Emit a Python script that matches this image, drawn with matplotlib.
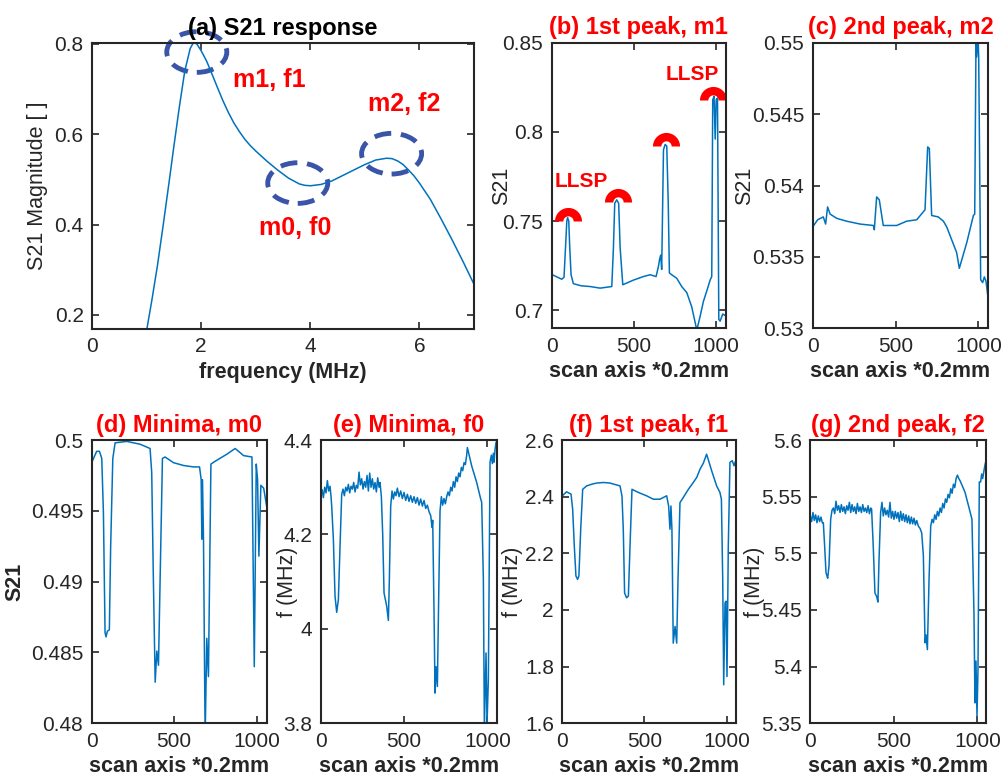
import numpy as np
import matplotlib.pyplot as plt
from matplotlib.path import Path
from matplotlib.patches import Ellipse

plt.rcParams['font.family'] = ['Liberation Sans', 'DejaVu Sans']

# (a) S21 response
freq = [1.0, 1.1, 1.2, 1.3, 1.4, 1.5, 1.6, 1.7, 1.8, 1.86, 1.92, 2.0, 2.1, 2.2, 2.3,
        2.4, 2.5, 2.6, 2.7, 2.8, 2.9, 3.0, 3.2, 3.4, 3.6, 3.8, 3.9, 4.0, 4.2, 4.4,
        4.6, 4.8, 5.0, 5.2, 5.4, 5.5, 5.6, 5.7, 5.8, 5.9, 6.0, 6.2, 6.4, 6.6, 6.8, 7.0]
s21 = [0.165, 0.235, 0.31, 0.395, 0.483, 0.573, 0.66, 0.74, 0.79, 0.803, 0.800, 0.785,
       0.762, 0.733, 0.703, 0.674, 0.648, 0.625, 0.606, 0.589, 0.575, 0.563, 0.541,
       0.521, 0.503, 0.490, 0.487, 0.486, 0.489, 0.497, 0.509, 0.521, 0.533, 0.543,
       0.547, 0.546, 0.541, 0.533, 0.521, 0.508, 0.492, 0.456, 0.412, 0.366, 0.318, 0.268]
ell_x = [1.92, 3.77, 5.49]
ell_y = [0.782, 0.492, 0.557]
ann_text = ['m1, f1', 'm0, f0', 'm2, f2']
ann_x = [2.58, 3.06, 5.06]
ann_y = [0.720, 0.392, 0.668]

# (b) 1st peak, m1
xb = [4, 61, 75, 84, 92, 97, 104, 110, 118, 132, 180, 234, 295, 366, 376, 384, 396,
      408, 417, 433, 498, 559, 600, 636, 650, 658, 664, 670, 681, 691, 701, 710, 717,
      731, 762, 792, 823, 853, 884, 905, 924, 945, 965, 975, 981, 989, 996, 1002, 1010,
      1018, 1026, 1042, 1060]
yb = [0.720, 0.7175, 0.7186, 0.735, 0.750, 0.752, 0.750, 0.735, 0.720, 0.715, 0.7138,
      0.7134, 0.7125, 0.7134, 0.735, 0.760, 0.762, 0.760, 0.735, 0.7144, 0.717, 0.719,
      0.720, 0.719, 0.7246, 0.729, 0.731, 0.723, 0.790, 0.793, 0.792, 0.760, 0.721,
      0.720, 0.718, 0.7134, 0.710, 0.702, 0.689, 0.697, 0.705, 0.711, 0.717, 0.719,
      0.818, 0.820, 0.796, 0.818, 0.819, 0.695, 0.694, 0.698, 0.697]
llsp_x = [101, 406, 697, 985]
llsp_y = [0.750, 0.761, 0.792, 0.818]

# (c) 2nd peak, m2
xc = [0, 30, 64, 78, 90, 105, 145, 205, 286, 366, 372, 386, 402, 426, 507, 567, 628,
      678, 694, 704, 718, 758, 789, 809, 839, 869, 885, 930, 970, 978, 986, 990, 998,
      1002, 1014, 1026, 1036, 1046, 1060]
yc = [0.5371, 0.5376, 0.5378, 0.5373, 0.5385, 0.5380, 0.5377, 0.5375, 0.5373, 0.5372,
      0.5369, 0.5392, 0.5390, 0.5372, 0.5372, 0.5375, 0.5376, 0.5383, 0.5427, 0.5426,
      0.5379, 0.5378, 0.5375, 0.5371, 0.5362, 0.5353, 0.5342, 0.5360, 0.5379, 0.5380,
      0.5505, 0.5490, 0.5505, 0.5490, 0.5334, 0.5332, 0.5336, 0.5333, 0.5320]

# (d) Minima, m0
xd = [0, 30, 47, 61, 71, 81, 87, 95, 107, 115, 128, 142, 213, 294, 354, 364, 374, 385,
      395, 405, 415, 429, 445, 496, 557, 617, 654, 664, 668, 672, 678, 688, 698, 708,
      723, 749, 820, 870, 921, 972, 986, 998, 1006, 1014, 1026, 1043, 1067]
yd = [0.4984, 0.4992, 0.4992, 0.4987, 0.4949, 0.4864, 0.4861, 0.4865, 0.4866, 0.4925,
      0.4987, 0.4998, 0.4999, 0.4997, 0.4994, 0.4977, 0.4902, 0.4829, 0.4851, 0.4841,
      0.4902, 0.4987, 0.4988, 0.4984, 0.4982, 0.4981, 0.4981, 0.4972, 0.4930, 0.4972,
      0.4930, 0.4790, 0.4860, 0.4833, 0.4983, 0.4985, 0.4990, 0.4994, 0.4989, 0.4988,
      0.4840, 0.4983, 0.4972, 0.4918, 0.4968, 0.4966, 0.4949]

# (e) Minima, f0
xe = [0, 8, 16, 24, 32, 40, 48, 56, 62, 66, 76, 86, 96, 106, 116, 126, 134, 142, 150,
      158, 166, 174, 182, 190, 198, 206, 214, 222, 230, 238, 246, 254, 262, 270, 278,
      286, 294, 302, 310, 318, 326, 334, 342, 350, 356, 364, 372, 380, 396, 406, 412,
      420, 428, 436, 444, 452, 460, 470, 480, 490, 500, 510, 520, 530, 540, 550, 560,
      570, 580, 590, 600, 610, 620, 630, 640, 650, 660, 668, 672, 680, 686, 692, 700,
      708, 716, 724, 732, 740, 748, 756, 764, 772, 780, 788, 796, 804, 812, 820, 828,
      836, 844, 852, 860, 868, 876, 880, 906, 936, 960, 966, 976, 982, 992, 998, 1006,
      1016, 1024, 1030, 1036, 1040, 1046, 1052]
ye = [4.282, 4.295, 4.278, 4.300, 4.288, 4.314, 4.292, 4.302, 4.280, 4.260, 4.190,
      4.069, 4.035, 4.062, 4.175, 4.285, 4.296, 4.282, 4.300, 4.292, 4.306, 4.288,
      4.302, 4.296, 4.310, 4.290, 4.304, 4.298, 4.332, 4.305, 4.318, 4.296, 4.312,
      4.300, 4.325, 4.292, 4.330, 4.300, 4.318, 4.296, 4.310, 4.290, 4.320, 4.300,
      4.310, 4.280, 4.200, 4.076, 4.048, 4.018, 4.105, 4.260, 4.292, 4.275, 4.290,
      4.282, 4.298, 4.280, 4.292, 4.276, 4.289, 4.272, 4.285, 4.270, 4.282, 4.268,
      4.280, 4.266, 4.278, 4.262, 4.275, 4.260, 4.272, 4.255, 4.262, 4.248, 4.240,
      4.215, 4.230, 4.034, 3.864, 3.920, 3.878, 4.069, 4.250, 4.280, 4.262, 4.276,
      4.265, 4.280, 4.290, 4.282, 4.300, 4.292, 4.312, 4.300, 4.322, 4.312, 4.330,
      4.322, 4.342, 4.335, 4.352, 4.348, 4.368, 4.384, 4.345, 4.310, 4.275, 4.268,
      4.105, 3.790, 3.949, 3.800, 3.892, 4.353, 4.368, 4.350, 4.372, 4.353, 4.380,
      4.395]

# (f) 1st peak, f1
xf = [0, 26, 53, 63, 73, 83, 93, 101, 112, 124, 148, 180, 209, 250, 290, 351, 363, 371,
      379, 391, 402, 412, 424, 462, 513, 554, 594, 635, 647, 655, 661, 667, 675, 686,
      696, 704, 716, 736, 767, 797, 818, 838, 858, 878, 909, 939, 959, 968, 976, 982,
      990, 996, 1002, 1010, 1020, 1034, 1045, 1055]
yf = [2.403, 2.417, 2.409, 2.356, 2.226, 2.120, 2.108, 2.120, 2.285, 2.426, 2.438,
      2.444, 2.448, 2.450, 2.448, 2.438, 2.403, 2.285, 2.060, 2.043, 2.049, 2.226,
      2.426, 2.415, 2.403, 2.391, 2.391, 2.403, 2.367, 2.285, 2.367, 2.285, 1.883,
      1.942, 1.883, 2.108, 2.379, 2.397, 2.426, 2.450, 2.468, 2.497, 2.518, 2.550,
      2.491, 2.438, 2.415, 2.391, 2.108, 1.736, 2.025, 2.031, 1.765, 2.226, 2.521,
      2.527, 2.509, 2.527]

# (g) 2nd peak, f2
xg = [0, 8, 16, 24, 32, 40, 48, 56, 64, 72, 78, 86, 94, 100, 104, 112, 122, 130, 138,
      146, 154, 162, 170, 178, 186, 194, 202, 210, 218, 226, 234, 242, 250, 258, 266,
      274, 282, 290, 298, 306, 314, 322, 330, 338, 346, 354, 362, 367, 377, 387, 397,
      405, 411, 421, 429, 437, 445, 453, 461, 469, 477, 485, 493, 501, 509, 517, 525,
      533, 541, 549, 557, 565, 573, 581, 589, 597, 605, 613, 621, 629, 637, 647, 657,
      667, 677, 687, 693, 701, 711, 721, 729, 737, 745, 753, 761, 769, 777, 785, 793,
      801, 809, 817, 825, 833, 841, 849, 857, 865, 873, 881, 889, 897, 926, 956, 968,
      980, 986, 992, 998, 1004, 1012, 1020, 1026, 1032, 1040, 1046, 1052]
yg = [5.533, 5.528, 5.536, 5.529, 5.534, 5.527, 5.533, 5.528, 5.532, 5.527, 5.527,
      5.506, 5.483, 5.480, 5.478, 5.489, 5.530, 5.538, 5.540, 5.535, 5.546, 5.538,
      5.542, 5.536, 5.543, 5.537, 5.541, 5.535, 5.542, 5.538, 5.545, 5.536, 5.543,
      5.537, 5.541, 5.535, 5.544, 5.537, 5.541, 5.536, 5.543, 5.537, 5.540, 5.536,
      5.542, 5.535, 5.540, 5.539, 5.506, 5.465, 5.462, 5.457, 5.492, 5.536, 5.545,
      5.533, 5.540, 5.534, 5.538, 5.532, 5.545, 5.531, 5.537, 5.530, 5.537, 5.531,
      5.536, 5.528, 5.537, 5.529, 5.535, 5.528, 5.534, 5.527, 5.533, 5.526, 5.532,
      5.526, 5.531, 5.525, 5.529, 5.524, 5.522, 5.518, 5.498, 5.421, 5.428, 5.415,
      5.477, 5.524, 5.530, 5.527, 5.534, 5.530, 5.537, 5.533, 5.540, 5.536, 5.544,
      5.540, 5.548, 5.545, 5.552, 5.549, 5.557, 5.553, 5.561, 5.558, 5.566, 5.569,
      5.566, 5.564, 5.554, 5.537, 5.530, 5.447, 5.368, 5.405, 5.356, 5.397, 5.563,
      5.563, 5.570, 5.566, 5.573, 5.578, 5.582]

W, H = 1006, 782
LINE = '#0072BD'
DARK = '#262626'
TICK_FS = 15
LAB_FS = 15.5
TITLE_FS = 17


def make_ax(fig, left, right, top, bottom):
    ax = fig.add_axes([left / W, 1 - bottom / H, (right - left) / W, (bottom - top) / H])
    ax.tick_params(direction='in', top=True, right=True, length=5, width=1.2,
                   labelsize=TICK_FS, colors=DARK, pad=6)
    for sp in ax.spines.values():
        sp.set_linewidth(1.5)
        sp.set_color(DARK)
    return ax


def scan_ax(fig, box, x, y, xmax, ylim, yticks, yticklabels, ylabel, ylab_x, title,
            ybold=False):
    ax = make_ax(fig, *box)
    ax.plot(x, y, color=LINE, lw=1.1)
    ax.set_xlim(0, xmax)
    ax.set_ylim(*ylim)
    ax.set_yticks(yticks)
    ax.set_yticklabels(yticklabels)
    ax.set_xticks([0, 500, 1000])
    ax.set_xlabel('scan axis *0.2mm', fontsize=LAB_FS, fontweight='bold', color=DARK)
    ax.set_ylabel(ylabel, fontsize=LAB_FS, color=DARK,
                  fontweight='bold' if ybold else 'normal')
    ax.yaxis.set_label_coords(ylab_x, 0.5)
    ax.set_title(title, fontsize=TITLE_FS, fontweight='bold', color='red', pad=6)
    return ax


fig = plt.figure(figsize=(W / 100, H / 100), dpi=100)

# (a)
ax = make_ax(fig, 92, 474, 43, 329)
ax.plot(freq, s21, color=LINE, lw=1.1)
ax.set_xlim(0, 7)
ax.set_ylim(0.169, 0.802)
ax.set_xticks([0, 2, 4, 6])
ax.set_yticks([0.2, 0.4, 0.6, 0.8])
ax.set_xlabel('frequency (MHz)', fontsize=LAB_FS, fontweight='bold', color=DARK)
ax.set_ylabel('S21 Magnitude [ ]', fontsize=LAB_FS, color=DARK)
ax.yaxis.set_label_coords(-0.115, 0.5)
ax.set_title('(a) S21 response', fontsize=TITLE_FS, fontweight='bold', pad=6)
for cx, cy in zip(ell_x, ell_y):
    e = Ellipse((cx, cy), 1.1, 0.09, fill=False, edgecolor='#3a55a8', lw=3.5,
                ls=(0, (3.5, 2)), clip_on=False)
    ax.add_patch(e)
for t, tx, ty in zip(ann_text, ann_x, ann_y):
    ax.text(tx, ty, t, color='red', fontsize=18, fontweight='bold', va='center')

# half ring marker for (b)
th = np.linspace(0, np.pi, 30)
verts = np.concatenate([np.c_[np.cos(th), np.sin(th)],
                        np.c_[0.38 * np.cos(th[::-1]), 0.38 * np.sin(th[::-1])],
                        [[1, 0]]])
codes = [Path.MOVETO] + [Path.LINETO] * (len(verts) - 2) + [Path.CLOSEPOLY]
half_ring = Path(verts, codes)

# (b)
ax = scan_ax(fig, (551.7, 725.7, 42.7, 328.3), xb, yb, 1060, (0.690, 0.85),
             [0.7, 0.75, 0.8, 0.85], ['0.7', '0.75', '0.8', '0.85'], 'S21', -0.228,
             '(b) 1st peak, m1')
ax.plot(llsp_x, llsp_y, ls='none', marker=half_ring, ms=19.5, color='red', mec='none',
        clip_on=False)
ax.text(20, 0.772, 'LLSP', color='red', fontsize=15, fontweight='bold', va='center')
ax.text(691, 0.832, 'LLSP', color='red', fontsize=15, fontweight='bold', va='center')

# (c)
scan_ax(fig, (812.7, 988.3, 42.7, 328.3), xc, yc, 1060, (0.53, 0.55),
        [0.53, 0.535, 0.54, 0.545, 0.55], ['0.53', '0.535', '0.54', '0.545', '0.55'],
        'S21', -0.329, '(c) 2nd peak, m2')

# (d)
scan_ax(fig, (91.7, 267.3, 440, 723.3), xd, yd, 1065, (0.48, 0.5),
        [0.48, 0.485, 0.49, 0.495, 0.5], ['0.48', '0.485', '0.49', '0.495', '0.5'],
        'S21', -0.38, '(d) Minima, m0', ybold=True)

# (e)
scan_ax(fig, (320.7, 496.7, 440, 723.3), xe, ye, 1056, (3.8, 4.4),
        [3.8, 4.0, 4.2, 4.4], ['3.8', '4', '4.2', '4.4'], 'f (MHz)', -0.129,
        '(e) Minima, f0')

# (f)
scan_ax(fig, (562.3, 735.7, 440, 723.3), xf, yf, 1055, (1.6, 2.6),
        [1.6, 1.8, 2.0, 2.2, 2.4, 2.6], ['1.6', '1.8', '2', '2.2', '2.4', '2.6'],
        'f (MHz)', -0.226, '(f) 1st peak, f1')

# (g)
scan_ax(fig, (810.3, 986, 440, 723.3), xg, yg, 1052, (5.35, 5.6),
        [5.35, 5.4, 5.45, 5.5, 5.55, 5.6], ['5.35', '5.4', '5.45', '5.5', '5.55', '5.6'],
        'f (MHz)', -0.258, '(g) 2nd peak, f2')

fig.savefig('out.png', dpi=100)
